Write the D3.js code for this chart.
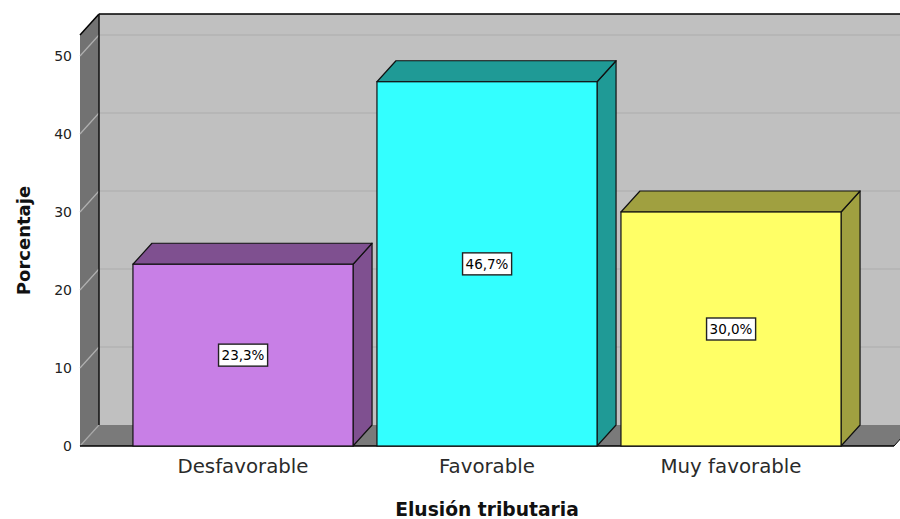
<!DOCTYPE html>
<html><head><meta charset="utf-8">
<script src="https://cdn.jsdelivr.net/npm/d3@7/dist/d3.min.js"></script>
<style>html,body{margin:0;padding:0;background:#fff;}svg{display:block;}</style>
</head><body>
<script>
const categories = ["Desfavorable", "Favorable", "Muy favorable"];
const values = [23.3, 46.7, 30.0];
const valueLabels = ["23,3%", "46,7%", "30,0%"];
const yTicks = [0, 10, 20, 30, 40, 50];
const frontColors = ["#c87fe6", "#33ffff", "#ffff66"];
const sideColors = ["#7f5090", "#1f9a96", "#a0a040"];

const W = 900, H = 519;
const dx = 19, dy = -21;
const svg = d3.select("body").append("svg").attr("width", W).attr("height", H);

const x = d3.scaleBand().domain(categories).range([80, 894]).paddingInner(0.098).paddingOuter(0.217);
const y = d3.scaleLinear().domain([0, 50]).range([446, 56]);
const yTopVal = 52.7;
const x0 = 80, x1 = 894, yb = y(0), yt = y(yTopVal);

// back wall
svg.append("rect").attr("x", x0 + dx).attr("y", yt + dy).attr("width", x1 - x0).attr("height", yb - yt)
  .attr("fill", "#c0c0c0");
// back gridlines
svg.selectAll(".bg").data(yTicks.filter(d => d > 0)).enter().append("line")
  .attr("x1", x0 + dx).attr("x2", x1 + dx).attr("y1", d => y(d) + dy).attr("y2", d => y(d) + dy)
  .attr("stroke", "#acacac").attr("stroke-width", 1.2);
// left wall
svg.append("polygon").attr("points", [[x0, yb], [x0, yt], [x0 + dx, yt + dy], [x0 + dx, yb + dy]].map(p => p.join(",")).join(" "))
  .attr("fill", "#727272");
svg.selectAll(".lg").data(yTicks.filter(d => d > 0)).enter().append("line")
  .attr("x1", x0).attr("x2", x0 + dx).attr("y1", d => y(d)).attr("y2", d => y(d) + dy)
  .attr("stroke", "#b0b0b0").attr("stroke-width", 1.2);
// floor
svg.append("polygon").attr("points", [[x0, yb], [x1, yb], [x1 + dx, yb + dy], [x0 + dx, yb + dy]].map(p => p.join(",")).join(" "))
  .attr("fill", "#7a7a7a");
svg.append("line").attr("x1", x0).attr("x2", x0 + dx).attr("y1", yb).attr("y2", yb + dy).attr("stroke", "#a8a8a8").attr("stroke-width", 1.2);
// outlines
svg.append("line").attr("x1", x0 + dx).attr("x2", x1 + dx).attr("y1", yt + dy).attr("y2", yt + dy).attr("stroke", "#000").attr("stroke-width", 1.5);
svg.append("line").attr("x1", x0).attr("x2", x0 + dx).attr("y1", yt).attr("y2", yt + dy).attr("stroke", "#000").attr("stroke-width", 1.5);
svg.append("line").attr("x1", x0 + dx).attr("x2", x0 + dx).attr("y1", yt + dy).attr("y2", yb + dy).attr("stroke", "#111").attr("stroke-width", 1.5);
svg.append("line").attr("x1", x0).attr("x2", x1).attr("y1", yb).attr("y2", yb).attr("stroke", "#000").attr("stroke-width", 1.5);
svg.append("line").attr("x1", x1).attr("x2", x1 + dx).attr("y1", yb).attr("y2", yb + dy).attr("stroke", "#000").attr("stroke-width", 1);

// bars
const bars = svg.selectAll(".bar").data(categories).enter().append("g");
const bw = x.bandwidth();
bars.append("polygon").attr("points", (d, i) => {
  const l = x(d), r = l + bw, t = y(values[i]);
  return [[r, yb], [r, t], [r + dx, t + dy], [r + dx, yb + dy]].map(p => p.join(",")).join(" ");
}).attr("fill", (d, i) => sideColors[i]).attr("stroke", "#111").attr("stroke-width", 1.2).attr("stroke-linejoin", "round");
bars.append("polygon").attr("points", (d, i) => {
  const l = x(d), r = l + bw, t = y(values[i]);
  return [[l, t], [r, t], [r + dx, t + dy], [l + dx, t + dy]].map(p => p.join(",")).join(" ");
}).attr("fill", (d, i) => sideColors[i]).attr("stroke", "#111").attr("stroke-width", 1.2).attr("stroke-linejoin", "round");
bars.append("rect").attr("x", d => x(d)).attr("y", (d, i) => y(values[i])).attr("width", bw)
  .attr("height", (d, i) => yb - y(values[i])).attr("fill", (d, i) => frontColors[i])
  .attr("stroke", "#111").attr("stroke-width", 1.2);

// value labels
bars.each(function (d, i) {
  const g = d3.select(this);
  const cx = x(d) + bw / 2, cy = (yb + y(values[i])) / 2;
  const t = g.append("text").attr("x", cx).attr("y", cy + 5).attr("text-anchor", "middle")
    .attr("font-family", "DejaVu Sans").attr("font-size", 13.5).attr("fill", "#000").text(valueLabels[i]);
  const bb = t.node().getBBox();
  g.insert("rect", "text").attr("x", bb.x - 3).attr("y", cy - 11).attr("width", bb.width + 6).attr("height", 22)
    .attr("fill", "#fff").attr("stroke", "#222").attr("stroke-width", 1.4);
});

// y tick labels
svg.selectAll(".yt").data(yTicks).enter().append("text")
  .attr("x", 72).attr("y", d => y(d) + 5).attr("text-anchor", "end")
  .attr("font-family", "DejaVu Sans").attr("font-size", 14).attr("fill", "#222").text(d => d);

// category labels
svg.selectAll(".xl").data(categories).enter().append("text")
  .attr("x", d => x(d) + bw / 2).attr("y", 473).attr("text-anchor", "middle")
  .attr("font-family", "DejaVu Sans").attr("font-size", 19.8).attr("fill", "#2a2a2a").text(d => d);

// axis titles
svg.append("text").attr("x", (x0 + x1) / 2).attr("y", 516).attr("text-anchor", "middle")
  .attr("font-family", "DejaVu Sans").attr("font-weight", "bold").attr("font-size", 18.7).attr("fill", "#111")
  .text("Elusión tributaria");
svg.append("text").attr("transform", "translate(30,240.5) rotate(-90)").attr("text-anchor", "middle")
  .attr("font-family", "DejaVu Sans").attr("font-weight", "bold").attr("font-size", 18).attr("fill", "#111")
  .text("Porcentaje");
</script>
</body></html>
